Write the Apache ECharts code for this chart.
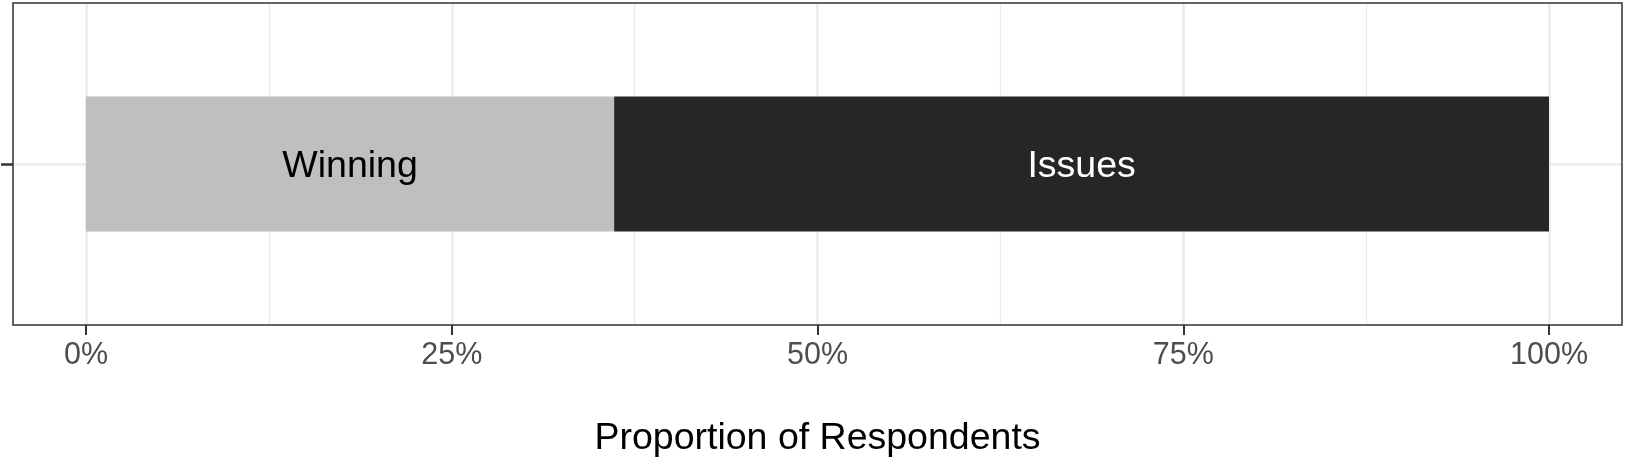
<!DOCTYPE html>
<html>
<head>
<meta charset="utf-8">
<script src="https://cdn.jsdelivr.net/npm/echarts@6/dist/echarts.min.js"></script>
<style>
  html, body { margin: 0; padding: 0; background: #fff; }
  #chart { width: 1625px; height: 461px; }
</style>
</head>
<body>
<div id="chart"></div>
<script>
// one unnamed category, proportions
const categories = [''];
const seriesNames = ['Winning', 'Issues'];
const winning = [0.361];
const issues = [0.639];

const chart = echarts.init(document.getElementById('chart'));
const font = '"Liberation Sans", Arial, sans-serif';

const option = {
  animation: false,
  grid: [
    // panel (with ggplot-style 5% expansion)
    { left: 13, top: 3, width: 1609, height: 322, outerBoundsMode: 'none', show: true, borderColor: '#333333', borderWidth: 1.5, backgroundColor: 'transparent', z: 5 },
    // data range 0..1
    { left: 86, top: 3, width: 1463, height: 322, outerBoundsMode: 'none' }
  ],
  xAxis: [
    { gridIndex: 0, type: 'value', min: -0.05, max: 1.05, show: false },
    {
      gridIndex: 1, type: 'value', min: 0, max: 1, interval: 0.25,
      axisLine: { show: false },
      axisTick: { show: true, length: 10, lineStyle: { color: '#333333', width: 2 } },
      axisLabel: {
        margin: 15, color: '#4d4d4d', fontSize: 30.5, fontFamily: font,
        formatter: v => Math.round(v * 100) + '%'
      },
      splitLine: { show: true, lineStyle: { color: '#ebebeb', width: 2.5 } },
      minorTick: { show: false, splitNumber: 2 },
      minorSplitLine: { show: true, lineStyle: { color: '#ebebeb', width: 1.2 } },
      name: 'Proportion of Respondents',
      nameLocation: 'middle',
      nameGap: 95,
      nameTextStyle: { color: '#000', fontSize: 37.5, fontFamily: font }
    }
  ],
  yAxis: [
    // decorative axis: centre gridline + tick for the single category
    {
      gridIndex: 0, type: 'category', data: ['', '', ''], boundaryGap: false,
      axisLine: { show: false, onZero: false },
      axisLabel: { show: false },
      axisTick: { show: true, length: 12, interval: i => i === 1, lineStyle: { color: '#333333', width: 2.5 } },
      splitLine: { show: true, interval: i => i === 1, lineStyle: { color: '#ebebeb', width: 2.5 } }
    },
    { gridIndex: 1, type: 'category', data: categories, show: false }
  ],
  series: [
    {
      name: seriesNames[0], type: 'bar', stack: 'all', xAxisIndex: 1, yAxisIndex: 1,
      data: winning, barWidth: 135,
      itemStyle: { color: '#bfbfbf' },
      label: { show: true, position: 'inside', offset: [0, 3], formatter: '{a}', color: '#000', fontSize: 37.5, fontFamily: font }
    },
    {
      name: seriesNames[1], type: 'bar', stack: 'all', xAxisIndex: 1, yAxisIndex: 1,
      data: issues, barWidth: 135,
      itemStyle: { color: '#262626' },
      label: { show: true, position: 'inside', offset: [0, 3], formatter: '{a}', color: '#fff', fontSize: 37.5, fontFamily: font }
    }
  ]
};

chart.setOption(option);
</script>
</body>
</html>
